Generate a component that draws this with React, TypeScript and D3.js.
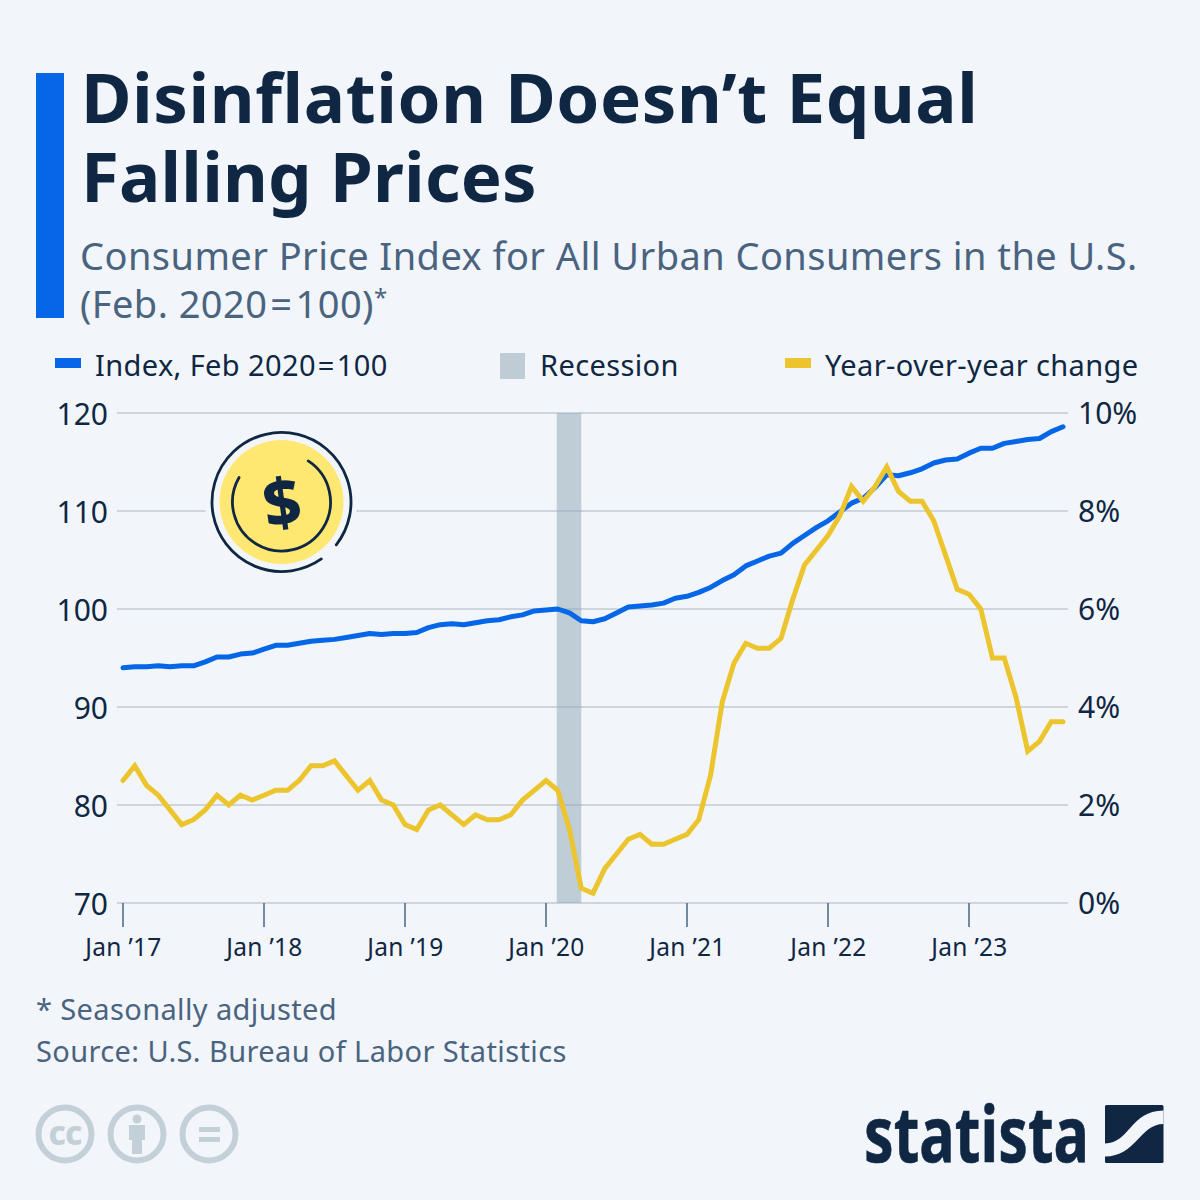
import React from 'react';
import * as d3 from 'd3';

// months since Jan 2017, one value per month up to Sep 2023
const indexValues = [
  94.0, 94.1, 94.1, 94.2, 94.1, 94.2, 94.2, 94.6, 95.1, 95.1, 95.4, 95.5,
  95.9, 96.3, 96.3, 96.5, 96.7, 96.8, 96.9, 97.1, 97.3, 97.5, 97.4, 97.5,
  97.5, 97.6, 98.1, 98.4, 98.5, 98.4, 98.6, 98.8, 98.9, 99.2, 99.4, 99.8,
  99.9, 100.0, 99.6, 98.8, 98.7, 99.0, 99.6, 100.2, 100.3, 100.4, 100.6, 101.1,
  101.3, 101.7, 102.2, 102.9, 103.5, 104.4, 104.9, 105.4, 105.7, 106.7, 107.5, 108.3,
  109.0, 109.9, 110.8, 111.3, 112.4, 113.7, 113.6, 113.9, 114.3, 114.9, 115.2, 115.3,
  115.9, 116.4, 116.4, 116.9, 117.1, 117.3, 117.4, 118.1, 118.6,
];
const yoyValues = [
  2.5, 2.8, 2.4, 2.2, 1.9, 1.6, 1.7, 1.9, 2.2, 2.0, 2.2, 2.1,
  2.2, 2.3, 2.3, 2.5, 2.8, 2.8, 2.9, 2.6, 2.3, 2.5, 2.1, 2.0,
  1.6, 1.5, 1.9, 2.0, 1.8, 1.6, 1.8, 1.7, 1.7, 1.8, 2.1, 2.3,
  2.5, 2.3, 1.5, 0.3, 0.2, 0.7, 1.0, 1.3, 1.4, 1.2, 1.2, 1.3,
  1.4, 1.7, 2.6, 4.1, 4.9, 5.3, 5.2, 5.2, 5.4, 6.2, 6.9, 7.2,
  7.5, 7.9, 8.5, 8.2, 8.5, 8.9, 8.4, 8.2, 8.2, 7.8, 7.1, 6.4,
  6.3, 6.0, 5.0, 5.0, 4.2, 3.1, 3.3, 3.7, 3.7,
];
const recessionMonths = [37, 39];
const leftTicks = [70, 80, 90, 100, 110, 120];
const rightTicks = [0, 2, 4, 6, 8, 10];
const xTickMonths = [0, 12, 24, 36, 48, 60, 72];
const xTickLabels = ['Jan ’17', 'Jan ’18', 'Jan ’19', 'Jan ’20', 'Jan ’21', 'Jan ’22', 'Jan ’23'];

const BG = '#f2f6fa';
const NAVY = '#0f2743';
const SLATE = '#4a6480';
const BLUE = '#0666e8';
const YELLOW = '#ecc52e';
const GRID = '#c2cad4';
const ICON = '#c4d0d8';
const FONT = '"Noto Sans", "Open Sans", sans-serif';

const x = d3.scaleLinear().domain([0, 80]).range([123, 1063]);
const yLeft = d3.scaleLinear().domain([70, 120]).range([903, 413]);
const yRight = d3.scaleLinear().domain([0, 10]).range([903, 413]);

const indexLine = d3.line<number>().x((_, i) => x(i)).y((d) => yLeft(d));
const yoyLine = d3.line<number>().x((_, i) => x(i)).y((d) => yRight(d));

const deg = (a: number) => (a * Math.PI) / 180;
const ring = (cx: number, cy: number, r: number, from: number, to: number) => {
  const p = d3.path();
  p.arc(cx, cy, r, deg(from), deg(to));
  return p.toString();
};

export default function App() {
  const [r0, r1] = recessionMonths;
  return (
    <svg
      width={1200}
      height={1200}
      viewBox="0 0 1200 1200"
      style={{ position: 'absolute', left: 0, top: 0, background: BG, fontFamily: FONT }}
    >
      <rect width={1200} height={1200} fill={BG} />

      <rect x={36} y={73} width={28} height={245} fill={BLUE} />
      <g fontWeight={700} fontSize={69} fill={NAVY}>
        <text x={81} y={123} letterSpacing={0.6}>Disinflation Doesn’t Equal</text>
        <text x={81} y={202} letterSpacing={0.2}>Falling Prices</text>
      </g>
      <g fontSize={38} fill={SLATE} letterSpacing={0.44}>
        <text x={80} y={270}>Consumer Price Index for All Urban Consumers in the U.S.</text>
        <text x={80} y={318}>
          (Feb. 2020<tspan dx={3}>=</tspan><tspan dx={3}>100)</tspan><tspan fontSize={24} dy={-12}>*</tspan>
        </text>
      </g>

      <g fontSize={29} fill={NAVY} letterSpacing={0.38}>
        <rect x={55} y={358} width={26} height={10} fill={BLUE} />
        <text x={95} y={376}>Index, Feb 2020<tspan dx={2}>=</tspan><tspan dx={2}>100</tspan></text>
        <rect x={500} y={353} width={25} height={26} fill="#bfccd5" />
        <text x={540} y={376}>Recession</text>
        <rect x={785} y={358} width={26} height={10} fill={YELLOW} />
        <text x={825} y={376}>Year-over-year change</text>
      </g>

      {leftTicks.map((t) => (
        <line key={t} x1={117} x2={1068} y1={yLeft(t)} y2={yLeft(t)} stroke={GRID} strokeWidth={1.5} />
      ))}
      <rect
        x={x(r0) - 1}
        y={yLeft(120)}
        width={x(r1) - x(r0) + 1}
        height={yLeft(70) - yLeft(120)}
        fill="#8ca3b4"
        opacity={0.5}
      />
      {xTickMonths.map((m, i) => (
        <g key={m}>
          <line x1={x(m)} x2={x(m)} y1={903} y2={927} stroke={SLATE} strokeWidth={1.5} />
          <text x={x(m) + 0.5} y={956} textAnchor="middle" fontSize={24.5} letterSpacing={0.3} fill={NAVY}>
            {xTickLabels[i]}
          </text>
        </g>
      ))}
      {leftTicks.map((t) => (
        <text key={t} x={108} y={yLeft(t) + 11.5} textAnchor="end" fontSize={30} fill={NAVY}>
          {t}
        </text>
      ))}
      {rightTicks.map((t) => (
        <text key={t} x={1078} y={yRight(t) + 11} fontSize={30} fill={NAVY}>
          {t}%
        </text>
      ))}

      <path d={indexLine(indexValues) ?? ''} fill="none" stroke={BLUE} strokeWidth={5} strokeLinecap="round" strokeLinejoin="round" />
      <path d={yoyLine(yoyValues) ?? ''} fill="none" stroke={YELLOW} strokeWidth={5} strokeLinecap="round" strokeLinejoin="miter" />

      {/* coin */}
      <g>
        <circle cx={281} cy={502} r={76} fill={BG} />
        <circle cx={281.5} cy={502} r={62} fill="#ffe872" />
        <path d={ring(281.5, 502, 69.5, 55, 398)} fill="none" stroke={NAVY} strokeWidth={2.8} strokeLinecap="round" />
        <path d={ring(281.5, 502, 49, -57, 210)} fill="none" stroke={NAVY} strokeWidth={2.8} strokeLinecap="round" />
        <text x={282} y={526} textAnchor="middle" fontSize={66} fontWeight={800} fill={NAVY} transform="rotate(-8 282 502)">
          $
        </text>
      </g>

      <g fontSize={29} fill={SLATE} letterSpacing={0.38}>
        <text x={36} y={1020}>* Seasonally adjusted</text>
        <text x={36} y={1062}>Source: U.S. Bureau of Labor Statistics</text>
      </g>

      {/* licence icons */}
      <g fill="none" stroke={ICON} strokeWidth={6}>
        <circle cx={65} cy={1134} r={26.5} />
        <circle cx={137} cy={1134} r={26.5} />
        <circle cx={209} cy={1134} r={26.5} />
      </g>
      <text x={65} y={1145} textAnchor="middle" fontSize={33} fontWeight={800} fill={ICON} letterSpacing={-1}>
        cc
      </text>
      <g fill={ICON}>
        <circle cx={137} cy={1119} r={4.5} />
        <rect x={129} y={1125} width={16} height={15} />
        <rect x={132} y={1138} width={10} height={16} />
        <rect x={199} y={1127} width={21} height={5} />
        <rect x={199} y={1137} width={21} height={5} />
      </g>

      {/* logo */}
      <text
        x={864}
        y={1162}
        fontSize={77}
        fontWeight={700}
        fill={NAVY}
        stroke={NAVY}
        strokeWidth={0.6}
        textLength={225}
        lengthAdjust="spacingAndGlyphs"
      >
        statista
      </text>
      <rect x={1105} y={1105} width={58.5} height={58} rx={1.5} fill={NAVY} />
      <path
        d="M1105 1143.5 C1130 1143 1130 1111 1163.5 1110.5 L1163.5 1124 C1140 1124 1136 1156.5 1105 1156.5 Z"
        fill={BG}
      />
    </svg>
  );
}
